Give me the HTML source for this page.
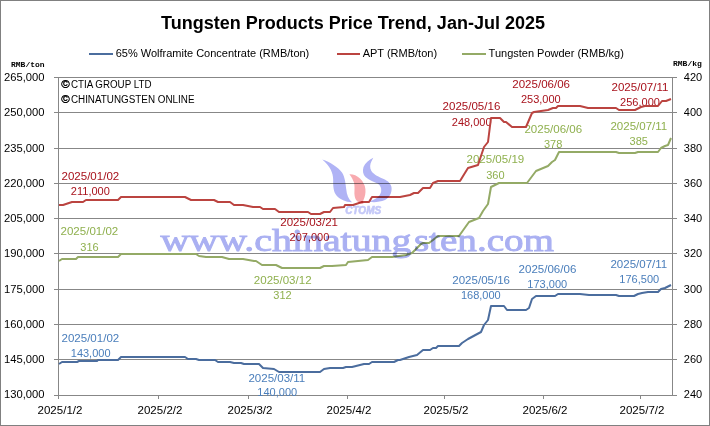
<!DOCTYPE html>
<html><head><meta charset="utf-8"><style>
html,body{margin:0;padding:0;background:#fff;}
body{width:710px;height:426px;overflow:hidden;position:relative;}
svg{position:absolute;left:0;top:0;}
text{font-family:"Liberation Sans",sans-serif;}
.ax{font-size:11px;fill:#000;}
.dl{font-size:11px;}
.ln{fill:none;stroke-width:2;stroke-linejoin:round;stroke-linecap:butt;}
.mono{font-family:"Liberation Mono",monospace;font-size:8px;fill:#000;font-weight:bold;}
</style></head><body>
<svg width="710" height="426" viewBox="0 0 710 426">
<rect x="0.5" y="0.5" width="709" height="425" fill="#fff" stroke="#808080" stroke-width="1"/>
<text x="161" y="28.9" font-size="18" font-weight="bold" fill="#000" textLength="384" lengthAdjust="spacingAndGlyphs">Tungsten Products Price Trend, Jan-Jul 2025</text>
<line x1="89" y1="54" x2="113" y2="54" stroke="#4b6d9e" stroke-width="2"/>
<text x="115.7" y="57" font-size="11" fill="#000">65% Wolframite Concentrate (RMB/ton)</text>
<line x1="337" y1="54" x2="360" y2="54" stroke="#bb4440" stroke-width="2"/>
<text x="362.7" y="57" font-size="11" fill="#000">APT (RMB/ton)</text>
<line x1="462" y1="54" x2="486" y2="54" stroke="#94aa66" stroke-width="2"/>
<text x="488.6" y="57" font-size="11" fill="#000">Tungsten Powder (RMB/kg)</text>
<text x="11" y="66.6" class="mono">RMB/ton</text>
<text x="673" y="66.3" class="mono">RMB/kg</text>
<line x1="54" y1="77.5" x2="677" y2="77.5" stroke="#878787" stroke-width="1"/>
<line x1="54" y1="112.5" x2="677" y2="112.5" stroke="#878787" stroke-width="1"/>
<line x1="54" y1="148.5" x2="677" y2="148.5" stroke="#878787" stroke-width="1"/>
<line x1="54" y1="183.5" x2="677" y2="183.5" stroke="#878787" stroke-width="1"/>
<line x1="54" y1="218.5" x2="677" y2="218.5" stroke="#878787" stroke-width="1"/>
<line x1="54" y1="253.5" x2="677" y2="253.5" stroke="#878787" stroke-width="1"/>
<line x1="54" y1="289.5" x2="677" y2="289.5" stroke="#878787" stroke-width="1"/>
<line x1="54" y1="324.5" x2="677" y2="324.5" stroke="#878787" stroke-width="1"/>
<line x1="54" y1="359.5" x2="677" y2="359.5" stroke="#878787" stroke-width="1"/>
<line x1="54" y1="395.5" x2="677" y2="395.5" stroke="#878787" stroke-width="1"/>
<line x1="58.5" y1="77" x2="58.5" y2="399" stroke="#878787" stroke-width="1"/>
<line x1="672.5" y1="77" x2="672.5" y2="396" stroke="#878787" stroke-width="1"/>
<line x1="58.5" y1="395" x2="58.5" y2="399" stroke="#878787" stroke-width="1"/>
<line x1="158.5" y1="395" x2="158.5" y2="399" stroke="#878787" stroke-width="1"/>
<line x1="248.5" y1="395" x2="248.5" y2="399" stroke="#878787" stroke-width="1"/>
<line x1="347.5" y1="395" x2="347.5" y2="399" stroke="#878787" stroke-width="1"/>
<line x1="444.5" y1="395" x2="444.5" y2="399" stroke="#878787" stroke-width="1"/>
<line x1="543.5" y1="395" x2="543.5" y2="399" stroke="#878787" stroke-width="1"/>
<line x1="640.5" y1="395" x2="640.5" y2="399" stroke="#878787" stroke-width="1"/>
<text x="44.6" y="80.8" text-anchor="end" class="ax" transform="translate(44.6 0) scale(1.02 1) translate(-44.6 0)">265,000</text>
<text x="44.6" y="115.8" text-anchor="end" class="ax" transform="translate(44.6 0) scale(1.02 1) translate(-44.6 0)">250,000</text>
<text x="44.6" y="151.8" text-anchor="end" class="ax" transform="translate(44.6 0) scale(1.02 1) translate(-44.6 0)">235,000</text>
<text x="44.6" y="186.8" text-anchor="end" class="ax" transform="translate(44.6 0) scale(1.02 1) translate(-44.6 0)">220,000</text>
<text x="44.6" y="221.8" text-anchor="end" class="ax" transform="translate(44.6 0) scale(1.02 1) translate(-44.6 0)">205,000</text>
<text x="44.6" y="256.8" text-anchor="end" class="ax" transform="translate(44.6 0) scale(1.02 1) translate(-44.6 0)">190,000</text>
<text x="44.6" y="292.8" text-anchor="end" class="ax" transform="translate(44.6 0) scale(1.02 1) translate(-44.6 0)">175,000</text>
<text x="44.6" y="327.8" text-anchor="end" class="ax" transform="translate(44.6 0) scale(1.02 1) translate(-44.6 0)">160,000</text>
<text x="44.6" y="362.8" text-anchor="end" class="ax" transform="translate(44.6 0) scale(1.02 1) translate(-44.6 0)">145,000</text>
<text x="44.6" y="397.8" text-anchor="end" class="ax" transform="translate(44.6 0) scale(1.02 1) translate(-44.6 0)">130,000</text>
<text x="683.8" y="80.8" class="ax">420</text>
<text x="683.8" y="115.8" class="ax">400</text>
<text x="683.8" y="151.8" class="ax">380</text>
<text x="683.8" y="186.8" class="ax">360</text>
<text x="683.8" y="221.8" class="ax">340</text>
<text x="683.8" y="256.8" class="ax">320</text>
<text x="683.8" y="292.8" class="ax">300</text>
<text x="683.8" y="327.8" class="ax">280</text>
<text x="683.8" y="362.8" class="ax">260</text>
<text x="683.8" y="397.8" class="ax">240</text>
<text x="60.0" y="413.9" text-anchor="middle" class="ax" transform="translate(60 0) scale(1.05 1) translate(-60 0)">2025/1/2</text>
<text x="160.0" y="413.9" text-anchor="middle" class="ax" transform="translate(160 0) scale(1.05 1) translate(-160 0)">2025/2/2</text>
<text x="250.0" y="413.9" text-anchor="middle" class="ax" transform="translate(250 0) scale(1.05 1) translate(-250 0)">2025/3/2</text>
<text x="349.0" y="413.9" text-anchor="middle" class="ax" transform="translate(349 0) scale(1.05 1) translate(-349 0)">2025/4/2</text>
<text x="446.0" y="413.9" text-anchor="middle" class="ax" transform="translate(446 0) scale(1.05 1) translate(-446 0)">2025/5/2</text>
<text x="545.0" y="413.9" text-anchor="middle" class="ax" transform="translate(545 0) scale(1.05 1) translate(-545 0)">2025/6/2</text>
<text x="642.0" y="413.9" text-anchor="middle" class="ax" transform="translate(642 0) scale(1.05 1) translate(-642 0)">2025/7/2</text>
<text x="61.3" y="87.6" font-size="11.5" fill="#000" stroke="#000" stroke-width="0.35">©</text><text x="70.9" y="87.6" font-size="10" fill="#000" textLength="80.6" lengthAdjust="spacingAndGlyphs">CTIA GROUP LTD</text>
<text x="61.3" y="102.9" font-size="11.5" fill="#000" stroke="#000" stroke-width="0.35">©</text><text x="70.9" y="102.9" font-size="10" fill="#000" textLength="123.6" lengthAdjust="spacingAndGlyphs">CHINATUNGSTEN ONLINE</text>
<text x="90.35" y="179.9" text-anchor="middle" fill="#a8121c" class="dl" transform="translate(90.35 0) scale(1.05 1) translate(-90.35 0)">2025/01/02</text>
<text x="90.35" y="194.9" text-anchor="middle" fill="#a8121c" class="dl" transform="translate(90.35 0) scale(1.0 1) translate(-90.35 0)">211,000</text>
<text x="309.15" y="226.1" text-anchor="middle" fill="#a8121c" class="dl" transform="translate(309.15 0) scale(1.05 1) translate(-309.15 0)">2025/03/21</text>
<text x="309.45" y="240.7" text-anchor="middle" fill="#a8121c" class="dl" transform="translate(309.45 0) scale(1.0 1) translate(-309.45 0)">207,000</text>
<text x="471.45" y="110.5" text-anchor="middle" fill="#a8121c" class="dl" transform="translate(471.45 0) scale(1.05 1) translate(-471.45 0)">2025/05/16</text>
<text x="471.65" y="125.6" text-anchor="middle" fill="#a8121c" class="dl" transform="translate(471.65 0) scale(1.0 1) translate(-471.65 0)">248,000</text>
<text x="541.15" y="87.8" text-anchor="middle" fill="#a8121c" class="dl" transform="translate(541.15 0) scale(1.05 1) translate(-541.15 0)">2025/06/06</text>
<text x="540.85" y="102.6" text-anchor="middle" fill="#a8121c" class="dl" transform="translate(540.85 0) scale(1.0 1) translate(-540.85 0)">253,000</text>
<text x="640" y="90.6" text-anchor="middle" fill="#a8121c" class="dl" transform="translate(640 0) scale(1.05 1) translate(-640 0)">2025/07/11</text>
<text x="640" y="105.5" text-anchor="middle" fill="#a8121c" class="dl" transform="translate(640 0) scale(1.0 1) translate(-640 0)">256,000</text>
<text x="89.4" y="235.5" text-anchor="middle" fill="#8fb04e" class="dl" transform="translate(89.4 0) scale(1.05 1) translate(-89.4 0)">2025/01/02</text>
<text x="89.55" y="250.6" text-anchor="middle" fill="#8fb04e" class="dl" transform="translate(89.55 0) scale(1.0 1) translate(-89.55 0)">316</text>
<text x="282.7" y="283.6" text-anchor="middle" fill="#8fb04e" class="dl" transform="translate(282.7 0) scale(1.05 1) translate(-282.7 0)">2025/03/12</text>
<text x="282.55" y="298.6" text-anchor="middle" fill="#8fb04e" class="dl" transform="translate(282.55 0) scale(1.0 1) translate(-282.55 0)">312</text>
<text x="495.35" y="163.5" text-anchor="middle" fill="#8fb04e" class="dl" transform="translate(495.35 0) scale(1.05 1) translate(-495.35 0)">2025/05/19</text>
<text x="495.35" y="178.6" text-anchor="middle" fill="#8fb04e" class="dl" transform="translate(495.35 0) scale(1.0 1) translate(-495.35 0)">360</text>
<text x="553.3" y="132.9" text-anchor="middle" fill="#8fb04e" class="dl" transform="translate(553.3 0) scale(1.05 1) translate(-553.3 0)">2025/06/06</text>
<text x="553.15" y="147.5" text-anchor="middle" fill="#8fb04e" class="dl" transform="translate(553.15 0) scale(1.0 1) translate(-553.15 0)">378</text>
<text x="638.85" y="129.8" text-anchor="middle" fill="#8fb04e" class="dl" transform="translate(638.85 0) scale(1.05 1) translate(-638.85 0)">2025/07/11</text>
<text x="638.75" y="144.7" text-anchor="middle" fill="#8fb04e" class="dl" transform="translate(638.75 0) scale(1.0 1) translate(-638.75 0)">385</text>
<text x="90.35" y="341.7" text-anchor="middle" fill="#4a7ebb" class="dl" transform="translate(90.35 0) scale(1.05 1) translate(-90.35 0)">2025/01/02</text>
<text x="90.65" y="356.7" text-anchor="middle" fill="#4a7ebb" class="dl" transform="translate(90.65 0) scale(1.0 1) translate(-90.65 0)">143,000</text>
<text x="276.85" y="381.9" text-anchor="middle" fill="#4a7ebb" class="dl" transform="translate(276.85 0) scale(1.05 1) translate(-276.85 0)">2025/03/11</text>
<text x="277.25" y="396" text-anchor="middle" fill="#4a7ebb" class="dl" transform="translate(277.25 0) scale(1.0 1) translate(-277.25 0)">140,000</text>
<text x="481.15" y="283.8" text-anchor="middle" fill="#4a7ebb" class="dl" transform="translate(481.15 0) scale(1.05 1) translate(-481.15 0)">2025/05/16</text>
<text x="480.85" y="298.6" text-anchor="middle" fill="#4a7ebb" class="dl" transform="translate(480.85 0) scale(1.0 1) translate(-480.85 0)">168,000</text>
<text x="547.45" y="272.9" text-anchor="middle" fill="#4a7ebb" class="dl" transform="translate(547.45 0) scale(1.05 1) translate(-547.45 0)">2025/06/06</text>
<text x="547.25" y="287.5" text-anchor="middle" fill="#4a7ebb" class="dl" transform="translate(547.25 0) scale(1.0 1) translate(-547.25 0)">173,000</text>
<text x="638.85" y="267.8" text-anchor="middle" fill="#4a7ebb" class="dl" transform="translate(638.85 0) scale(1.05 1) translate(-638.85 0)">2025/07/11</text>
<text x="639.25" y="282.7" text-anchor="middle" fill="#4a7ebb" class="dl" transform="translate(639.25 0) scale(1.0 1) translate(-639.25 0)">176,500</text>
<polyline points="59,364 62,362 77,362 79,361 97,361 98,360 118,360 121,357 185,357 188,359 196,359 199,360 215,360 218,362 230,362 234,363 241,363 244,364 259,364 263,368 274,369 279,372 320,372 324,369 330,368 333,368 343,368 346,367 352,367 364,364 369,364 372,362 394,362 398,360 400,360 409,357 417,355 423,350 430,350 433,348 436,348 438,346 459,346 462,343 468,339 481,332 484,325 488,320 491,306 504,306 507,310 526,310 529,308 532,299 536,296 555,296 558,294 580,294 589,295 616,295 619,296 634,296 638,294 642,293 648,292 658,292 661,289 665,288 671,285" class="ln" stroke="#4b6d9e"/>
<polyline points="59,261 62,259 76,259 78,257 118,257 121,254 196,254 199,256 206,257 222,257 229,259 243,259 254,261 256,261 262,265 276,265 282,268 320,268 324,266 332,266 346,265 348,262 368,260 372,257 392,257 406,255 412,253 416,249 421,244 423,243 429,243 433,240 438,236 459,236 469,222 479,218 483,211 488,204 491,187 499,183 527,183 536,171 548,166 552,162 555,160 559,152 616,152 619,153 635,153 638,152 658,152 661,148 665,146 668,145 671,138" class="ln" stroke="#94aa66"/>
<polyline points="59,205 63,205 72,202 83,202 86,200 118,200 121,197 185,197 191,200 214,200 218,202 230,202 234,205 243,205 253,207 260,207 263,209 275,209 279,212 308,212 311,214 320,214 324,212 330,212 333,208 344,207 345,205 353,205 359,203 362,202 369,202 372,197 400,197 410,195 414,193 418,193 423,188 430,188 433,183 438,181 460,181 468,168 478,165 481,156 484,147 488,142 491,118 500,118 504,122 506,122 512,127 526,127 532,113 534,112 548,110 553,108 556,108 558,106 580,106 588,108 616,108 619,110 635,110 641,107 645,106 658,106 662,101 666,101 671,99" class="ln" stroke="#bb4440"/>
<g style="mix-blend-mode:multiply">
<path d="M322.3,159.5 C330,162 338,167 342,172.5 C345,177 345.6,184 346.2,189 C346.8,195 348.5,199 352,202.2 C346,202.3 340,199.5 336.5,195.5 C333.5,192 333,186 333.2,180 C333.3,173 330,166 322.3,159.5 Z" fill="#b0b3f5"/>
<path d="M373.3,157.7 C369,160 365,163 363.5,167 C362.3,171 363,174.5 365.5,177 C368.5,180 374,182 377.6,183.5 C380.5,185.5 381.5,188 381.2,191 C381,194.5 378,198 372,200.5 C370.5,201 369.5,201.5 370.2,201.8 C374,202.6 380,202 385,200 C389.5,197.5 391.8,193 391.6,188.2 C391.4,184 388,181 383.7,179.1 C379,177 374,175 371.4,171.1 C369.5,168 370,164 371.5,161.3 C372,160 372.8,158.7 373.3,157.7 Z" fill="#b0b3f5"/>
<path d="M349.4,174.2 C353,174 357,175.5 360,178.5 C363,181.5 365,185 365.4,189 C365.8,193 365,197 363.7,199.5 C363,201 362.8,202.5 363.5,204 C360.5,203.8 358,202.5 356.5,200.5 C355,198.5 354.5,196 354.4,193.5 C354.5,189.5 354.8,186 354,182.5 C353,179.5 351.5,177 349.4,174.2 Z" fill="#f8aaaf"/>
<text x="363.2" y="214" text-anchor="middle" style="font-style:italic;font-weight:bold;font-size:10px" fill="#c4c8f8" stroke="#c4c8f8" stroke-width="0.6">CTOMS</text>
<text x="160.6" y="250.5" style="font-family:'Liberation Serif',serif;font-size:32px" stroke="#aab0f2" stroke-width="0.9" fill="#aab0f2" textLength="250.8" lengthAdjust="spacingAndGlyphs">www.chinatung</text>
<text x="413.9" y="250.5" style="font-family:'Liberation Serif',serif;font-size:32px" stroke="#aab0f2" stroke-width="0.9" fill="#aab0f2" textLength="140.1" lengthAdjust="spacingAndGlyphs">sten.com</text>
</g>
</svg>
</body></html>
